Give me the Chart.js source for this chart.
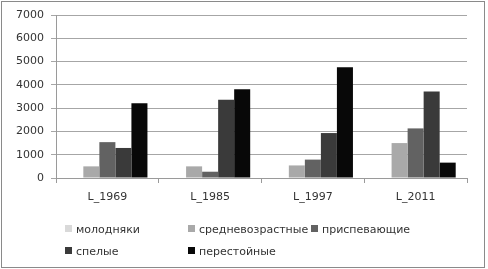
<!DOCTYPE html>
<html>
<head>
<meta charset="utf-8">
<script src="https://cdn.jsdelivr.net/npm/chart.js@4"></script>
<style>
  body { margin: 0; background: #fff; }
  #wrap { position: relative; width: 488px; height: 269px; }
  #frame { position: absolute; left: 1px; top: 1px; width: 482px; height: 265px; border: 1px solid #8a8a8a; pointer-events: none; }
  #legend { position: absolute; left: 0; top: 0; font-family: "DejaVu Sans", Arial, sans-serif; font-size: 11px; color: #333; }
  .item { position: absolute; white-space: nowrap; line-height: 13px; }
  .box { display: inline-block; width: 7px; height: 7px; margin-right: 4px; vertical-align: 1px; }
</style>
</head>
<body>
<div id="wrap">
  <canvas id="chart" width="488" height="269"></canvas>
  <div id="legend"></div>
  <div id="frame"></div>
</div>
<script>
// data
const categories = ['L_1969', 'L_1985', 'L_1997', 'L_2011'];
const seriesNames = ['молодняки', 'средневозрастные', 'приспевающие', 'спелые', 'перестойные'];
const molodnyaki = [0, 0, 0, 0];
const srednevozrastnye = [500, 500, 540, 1500];
const prispevayushchie = [1540, 270, 790, 2130];
const spelye = [1290, 3360, 1930, 3710];
const perestoinye = [3210, 3810, 4760, 660];
const yTicks = [0, 1000, 2000, 3000, 4000, 5000, 6000, 7000];

const colors = ['#d9d9d9', '#a9a9a9', '#626262', '#3a3a3a', '#080808'];
const values = [molodnyaki, srednevozrastnye, prispevayushchie, spelye, perestoinye];
const font = { family: '"DejaVu Sans", Arial, sans-serif', size: 11 };

const ctx = document.getElementById('chart').getContext('2d');
new Chart(ctx, {
    type: 'bar',
    data: {
        labels: categories,
        datasets: seriesNames.map((name, i) => ({
            label: name,
            data: values[i],
            backgroundColor: colors[i],
            categoryPercentage: 0.78,
            barPercentage: 1.0
        }))
    },
    options: {
        responsive: false,
        animation: false,
        layout: { padding: { left: 0, right: 21, top: 15, bottom: 61 } },
        plugins: { legend: { display: false }, tooltip: { enabled: false } },
        scales: {
            x: {
                grid: { display: true, drawOnChartArea: false, drawTicks: true, tickLength: 5, color: '#9a9a9a', offset: true },
                border: { color: '#9a9a9a' },
                ticks: { color: '#333', font: font, padding: 8 },
                afterFit: (s) => { s.height = 30; }
            },
            y: {
                min: 0, max: 7000,
                afterBuildTicks: (s) => { s.ticks = yTicks.map(v => ({ value: v })); },
                grid: { color: '#a6a6a6', tickLength: 5 },
                border: { color: '#9a9a9a' },
                ticks: { color: '#333', font: font, padding: 7, callback: (v) => String(v) },
                afterFit: (s) => { s.width = 56; }
            }
        }
    }
});

// legend laid out in Excel-like columns
const legendPos = [[65, 223], [188, 223], [311, 223], [65, 245], [188, 245]];
const legend = document.getElementById('legend');
seriesNames.forEach((name, i) => {
    const el = document.createElement('div');
    el.className = 'item';
    el.style.left = legendPos[i][0] + 'px';
    el.style.top = legendPos[i][1] + 'px';
    el.innerHTML = '<span class="box" style="background:' + colors[i] + '"></span>' + name;
    legend.appendChild(el);
});
</script>
</body>
</html>
